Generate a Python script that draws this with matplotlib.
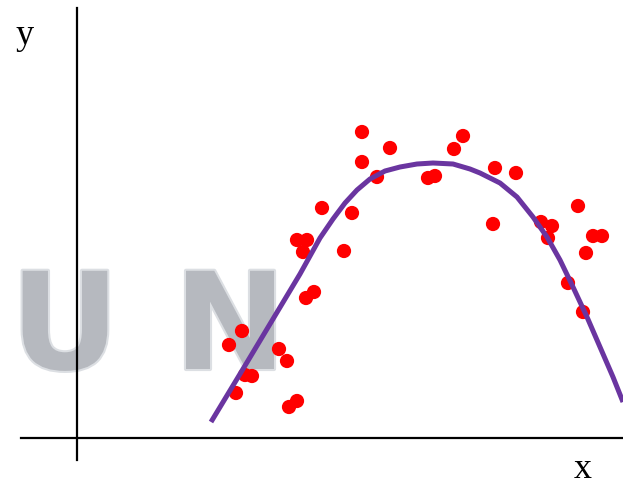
import matplotlib.pyplot as plt
import matplotlib.patheffects as pe

# scattered observations
obs_x = [5.70, 6.26, 5.70, 6.00, 4.90, 5.50, 4.40, 4.60, 4.52, 5.34, 4.74, 4.58,
         7.72, 7.54, 7.02, 7.16, 8.36, 8.78, 8.32, 9.28, 9.50, 9.42, 10.02, 10.32,
         10.50, 10.18, 9.82, 10.12, 3.30, 3.04, 4.04, 4.20, 3.36, 3.50, 3.18, 4.40, 4.24]
obs_y = [6.12, 5.80, 5.52, 5.22, 4.60, 4.50, 3.96, 3.96, 3.72, 3.74, 2.92, 2.80,
         6.04, 5.78, 5.20, 5.24, 5.40, 5.30, 4.28, 4.32, 4.24, 4.00, 4.64, 4.04,
         4.04, 3.70, 3.10, 2.52, 2.14, 1.86, 1.78, 1.54, 1.26, 1.24, 0.90, 0.74, 0.62]

# fitted curve
fit_x = [2.68, 3.26, 3.86, 4.46, 4.86, 5.12, 5.36, 5.60, 5.86, 6.16, 6.46, 6.80,
         7.12, 7.52, 7.86, 8.06, 8.46, 8.80, 9.12, 9.40, 9.66, 9.92, 10.20,
         10.46, 10.72, 10.92]
fit_y = [0.32, 1.28, 2.28, 3.28, 4.00, 4.38, 4.70, 4.96, 5.18, 5.34, 5.42, 5.48,
         5.50, 5.48, 5.38, 5.30, 5.10, 4.82, 4.42, 4.02, 3.56, 3.02, 2.42,
         1.82, 1.22, 0.72]

fig = plt.figure(figsize=(6.23, 4.87), dpi=100)
ax = fig.add_axes([0, 0, 1, 1])
ax.set_xlim(-1.54, 10.92)
ax.set_ylim(-0.98, 8.76)
ax.axis('off')

# watermark letters
for letter, lx in [('U', -0.24), ('N', 3.06)]:
    ax.text(lx, 1.38, letter, ha='center', va='baseline', fontsize=97,
            fontweight='bold', family='DejaVu Sans', color='#b6b9bf', zorder=1,
            path_effects=[pe.withStroke(linewidth=3, foreground='#dcdfe3')])

# axes
ax.plot([-1.12, 10.92], [0, 0], color='black', lw=1.6, zorder=2)
ax.plot([0, 0], [-0.44, 8.6], color='black', lw=1.6, zorder=2)
ax.text(-1.05, 8.05, 'y', fontsize=26, family='Liberation Serif', ha='center', va='center')
ax.text(10.12, -0.62, 'x', fontsize=26, family='Liberation Serif', ha='center', va='center')

ax.scatter(obs_x, obs_y, s=105, color='#ff0000', edgecolors='none', zorder=3)
ax.plot(fit_x, fit_y, color='#6a35a0', lw=3.6, solid_capstyle='butt',
        solid_joinstyle='round', zorder=4)

fig.savefig('out.png', dpi=100)
